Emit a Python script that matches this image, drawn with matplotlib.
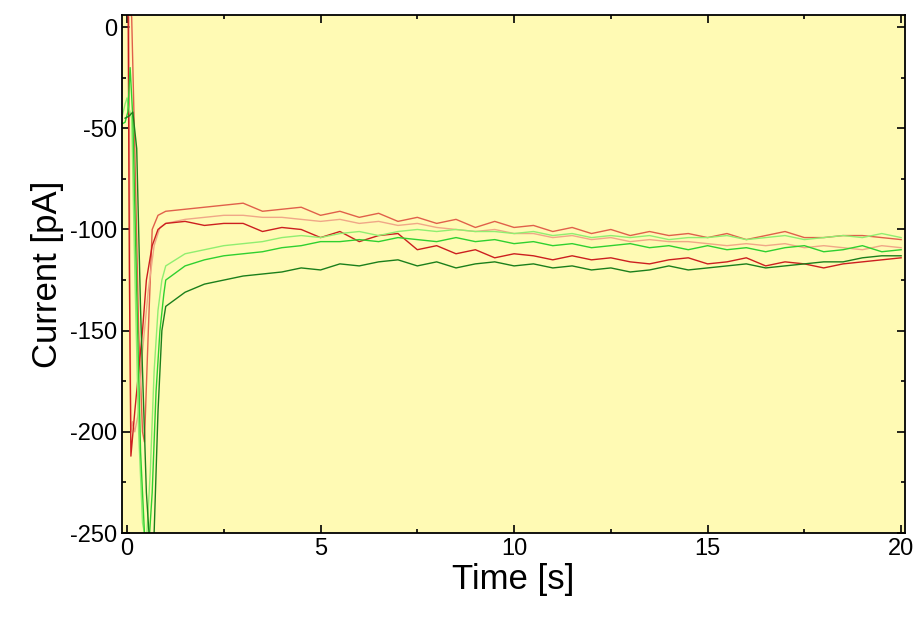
import numpy as np
import matplotlib
matplotlib.use('Agg')
from matplotlib import pyplot as plt

plt.rcParams['font.family'] = ['Liberation Sans', 'DejaVu Sans']
plt.rcParams['axes.unicode_minus'] = False

# time base for the slowly varying part (s)
t_tail = [1.0, 1.5, 2.0, 2.5, 3.0, 3.5, 4.0, 4.5, 5.0, 5.5, 6.0, 6.5, 7.0, 7.5,
          8.0, 8.5, 9.0, 9.5, 10.0, 10.5, 11.0, 11.5, 12.0, 12.5, 13.0, 13.5,
          14.0, 14.5, 15.0, 15.5, 16.0, 16.5, 17.0, 17.5, 18.0, 18.5, 19.0,
          19.5, 20.0]

# early transients (time, current) for each trace
tomato_head_t = [-0.05, 0.05, 0.12, 0.2, 0.3, 0.4, 0.45, 0.55, 0.65, 0.8]
tomato_head_v = [10, 10, 5, -60, -150, -200, -205, -150, -100, -93]
salmon_head_t = [-0.05, 0.05, 0.08, 0.1, 0.14, 0.2, 0.3, 0.4, 0.55, 0.7, 0.85]
salmon_head_v = [10, 5, -150, -200, -195, -200, -190, -160, -130, -108, -99]
red_head_t = [-0.05, 0.03, 0.06, 0.1, 0.2, 0.3, 0.4, 0.5, 0.65, 0.8]
red_head_v = [10, 5, -120, -212, -190, -170, -150, -125, -108, -100]
ltgreen_head_t = [-0.15, -0.05, 0.0, 0.05, 0.12, 0.2, 0.3, 0.4, 0.5, 0.6, 0.7, 0.8, 0.9]
ltgreen_head_v = [-46, -38, -35, -40, -45, -120, -200, -245, -255, -220, -170, -140, -125]
green_head_t = [-0.15, -0.05, 0.02, 0.08, 0.15, 0.25, 0.35, 0.45, 0.55, 0.65, 0.75, 0.85, 0.95]
green_head_v = [-48, -47, -42, -20, -45, -130, -210, -250, -260, -230, -180, -150, -132]
dkgreen_head_t = [-0.05, 0.05, 0.15, 0.25, 0.35, 0.5, 0.6, 0.7, 0.8, 0.9]
dkgreen_head_v = [-45, -44, -42, -60, -140, -230, -260, -250, -190, -150]

tomato_tail = [-91, -90, -89, -88, -87, -91, -90, -89, -93, -91, -94, -92, -96,
               -94, -97, -95, -99, -96, -99, -98, -101, -99, -102, -100, -103,
               -101, -103, -102, -104, -102, -105, -103, -101, -104, -104, -103,
               -103, -104, -105]
salmon_tail = [-97, -95, -94, -93, -93, -94, -94, -95, -96, -95, -97, -96, -98,
               -97, -99, -100, -101, -100, -102, -102, -104, -103, -105, -104,
               -106, -105, -106, -106, -107, -108, -107, -108, -107, -109, -108,
               -109, -110, -108, -109]
red_tail = [-97, -96, -98, -97, -97, -101, -99, -100, -104, -101, -106, -103,
            -102, -110, -108, -112, -110, -114, -112, -113, -115, -113, -115,
            -114, -116, -117, -115, -114, -117, -116, -114, -118, -116, -117,
            -119, -117, -116, -115, -114]
ltgreen_tail = [-118, -112, -110, -108, -107, -106, -104, -103, -104, -102,
                -101, -103, -101, -100, -101, -100, -101, -101, -102, -101,
                -103, -102, -104, -103, -104, -103, -105, -104, -104, -103,
                -105, -104, -103, -105, -104, -103, -104, -102, -104]
green_tail = [-125, -118, -115, -113, -112, -111, -109, -108, -106, -106, -105,
              -106, -104, -105, -106, -104, -106, -105, -107, -106, -108, -107,
              -109, -108, -107, -109, -108, -110, -108, -110, -109, -111, -109,
              -108, -111, -110, -108, -111, -110]
dkgreen_tail = [-138, -131, -127, -125, -123, -122, -121, -119, -120, -117,
                -118, -116, -115, -118, -116, -119, -117, -116, -118, -117,
                -119, -118, -120, -119, -121, -120, -118, -120, -119, -118,
                -117, -119, -118, -117, -116, -116, -114, -113, -113]

traces = [
    (tomato_head_t, tomato_head_v, tomato_tail, '#e0604a'),
    (salmon_head_t, salmon_head_v, salmon_tail, '#f0a787'),
    (red_head_t, red_head_v, red_tail, '#cc1f1f'),
    (ltgreen_head_t, ltgreen_head_v, ltgreen_tail, '#90ee70'),
    (green_head_t, green_head_v, green_tail, '#2fd02f'),
    (dkgreen_head_t, dkgreen_head_v, dkgreen_tail, '#1b7f1b'),
]

fig = plt.figure(figsize=(9.2, 6.19), dpi=100)
ax = fig.add_axes([122 / 920, 1 - 533 / 619, (905 - 122) / 920, (533 - 15) / 619])
ax.set_facecolor('#fffab4')
for head_t, head_v, tail, color in traces:
    ax.plot(list(head_t) + t_tail, list(head_v) + tail, color=color, lw=1.0)

ax.set_xlim(-0.13, 20.1)
ax.set_ylim(-250, 6)
ax.set_xticks([0, 5, 10, 15, 20])
ax.set_xticks([2.5, 7.5, 12.5, 17.5], minor=True)
ax.set_yticks([0, -50, -100, -150, -200, -250])
ax.set_yticks([-25, -75, -125, -175, -225], minor=True)
ax.tick_params(direction='in', top=True, right=True, which='both',
               labelsize=17, length=6, width=1.2)
ax.tick_params(which='minor', length=3)
for s in ax.spines.values():
    s.set_linewidth(1.3)
ax.set_xlabel('Time [s]', fontsize=25, labelpad=2)
ax.set_ylabel('Current [pA]', fontsize=25, labelpad=4)
fig.savefig('out.png')
